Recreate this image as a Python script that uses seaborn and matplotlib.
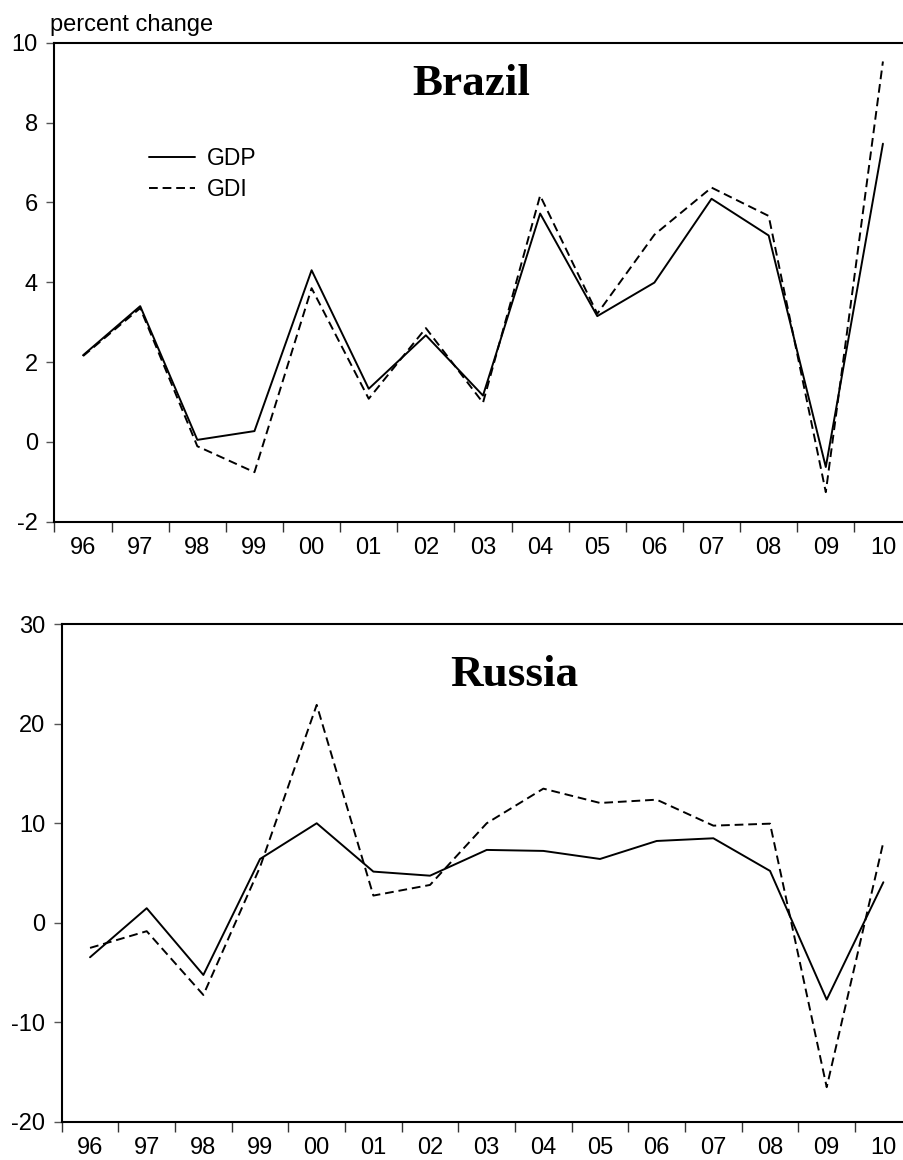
import numpy as np
import pandas as pd
import matplotlib
matplotlib.use("Agg")
import matplotlib.pyplot as plt
import seaborn as sns

years = ["96", "97", "98", "99", "00", "01", "02", "03", "04", "05", "06", "07", "08", "09", "10"]

brazil_gdp = [2.17, 3.40, 0.05, 0.27, 4.30, 1.33, 2.67, 1.16, 5.72, 3.15, 3.99, 6.09, 5.17, -0.63, 7.47]
brazil_gdi = [2.15, 3.35, -0.11, -0.76, 3.85, 1.08, 2.85, 0.98, 6.17, 3.21, 5.19, 6.37, 5.66, -1.26, 9.53]

russia_gdp = [-3.47, 1.46, -5.25, 6.41, 10.0, 5.14, 4.73, 7.32, 7.22, 6.41, 8.22, 8.49, 5.21, -7.73, 4.07]
russia_gdi = [-2.53, -0.85, -7.26, 5.6, 21.9, 2.73, 3.8, 10.0, 13.48, 12.04, 12.37, 9.76, 9.96, -16.53, 8.1]

series_names = ["GDP", "GDI"]

sns.set_theme(style="white")
plt.rcParams['font.family'] = ['Liberation Sans', 'DejaVu Sans']
plt.rcParams['text.color'] = 'black'

W, H = 904, 1160
fig = plt.figure(figsize=(W / 100, H / 100), dpi=100)

def px_axes(left, top, right, bottom):
    return fig.add_axes([left / W, 1 - bottom / H, (right - left) / W, (bottom - top) / H])

ax1 = px_axes(54.5, 42.7, 911.5, 521.7)
ax2 = px_axes(61.7, 624.3, 911.7, 1121.7)

def make_df(gdp, gdi):
    idx = np.arange(len(years))
    return pd.DataFrame({
        "x": np.concatenate([idx, idx]),
        "value": np.concatenate([gdp, gdi]),
        "series": [series_names[0]] * len(years) + [series_names[1]] * len(years),
    })

dash_map = {"GDP": "", "GDI": (4.5, 2.5)}

for ax, gdp, gdi, ylim, yticks in [
    (ax1, brazil_gdp, brazil_gdi, (-2, 10), [-2, 0, 2, 4, 6, 8, 10]),
    (ax2, russia_gdp, russia_gdi, (-20, 30), [-20, -10, 0, 10, 20, 30]),
]:
    df = make_df(gdp, gdi)
    sns.lineplot(data=df, x="x", y="value", style="series", dashes=dash_map,
                 color="black", linewidth=1.4, ax=ax, legend=False)
    ax.set_xlim(-0.5, len(years) - 0.5)
    ax.set_ylim(*ylim)
    ax.set_yticks(yticks)
    ax.set_yticklabels([str(t) for t in yticks])
    ax.set_xticks(np.arange(len(years)))
    ax.set_xticklabels(years)
    ax.set_xticks(np.arange(len(years) + 1) - 0.5, minor=True)
    ax.set_xlabel("")
    ax.set_ylabel("")
    ax.tick_params(axis="x", which="major", length=0, pad=11, labelsize=17,
                   labelcolor="black")
    ax.tick_params(axis="x", which="minor", length=7, width=1.0, direction="out",
                   color="#333333", bottom=True)
    ax.tick_params(axis="y", which="major", length=6, width=1.0, direction="out",
                   color="#555555", pad=6, labelsize=17, labelcolor="black", left=True)
    for s in ["top", "left", "bottom"]:
        ax.spines[s].set_visible(True)
        ax.spines[s].set_color("black")
        ax.spines[s].set_linewidth(1.5)
    ax.spines["right"].set_visible(False)
    ax.grid(False)

# legend
lines = ax1.get_lines()
leg = ax1.legend(handles=lines[:2], labels=series_names, loc="upper left",
                 bbox_to_anchor=(149.3 / W, 1 - 147 / H), bbox_transform=fig.transFigure,
                 frameon=False, fontsize=16.5, handlelength=2.0, handletextpad=0.5,
                 labelspacing=0.35, borderpad=0, borderaxespad=0)
for t in leg.get_texts():
    t.set_color("black")

fig.text(50 / W, 1 - 30.7 / H, "percent change", fontsize=17, ha="left", va="baseline",
         color="black")

fig.text(471 / W, 1 - 95.3 / H, "Brazil", fontsize=32.5, fontweight="bold",
         family=["Liberation Serif", "DejaVu Serif"], ha="center", va="baseline",
         color="black")
fig.text(514 / W, 1 - 685.7 / H, "Russia", fontsize=32.5, fontweight="bold",
         family=["Liberation Serif", "DejaVu Serif"], ha="center", va="baseline",
         color="black")

fig.savefig("out.png", dpi=100)
